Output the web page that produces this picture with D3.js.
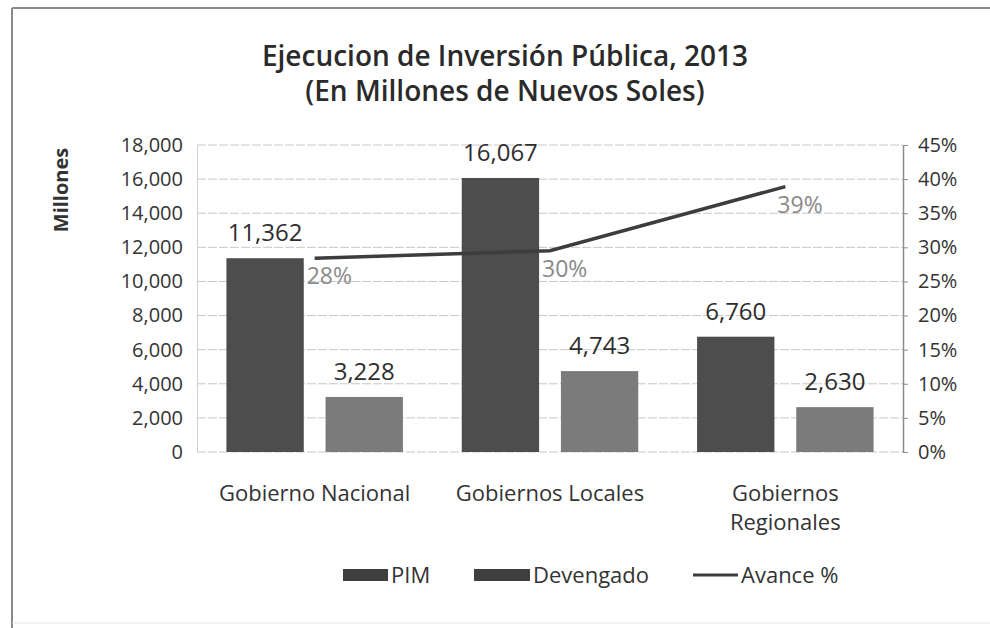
<!DOCTYPE html>
<html>
<head>
<meta charset="utf-8">
<script src="https://cdn.jsdelivr.net/npm/d3@7"></script>
<style>
  body { margin: 0; background: #fff; }
  text { font-family: "Open Sans", sans-serif; }
</style>
</head>
<body>
<svg id="chart" width="990" height="628"></svg>
<script>
const categories = ["Gobierno Nacional", "Gobiernos Locales", "Gobiernos Regionales"];
const series = ["PIM", "Devengado"];
const pim = [11362, 16067, 6760];
const devengado = [3228, 4743, 2630];
const avance = [0.284, 0.295, 0.389];
const leftTicks = [0, 2000, 4000, 6000, 8000, 10000, 12000, 14000, 16000, 18000];
const rightTicks = [0, 0.05, 0.10, 0.15, 0.20, 0.25, 0.30, 0.35, 0.40, 0.45];

const colors = { "PIM": "#4d4d4d", "Devengado": "#7b7b7b", "line": "#3d3d3d" };

const plotLeft = 197, plotRight = 903, plotTop = 145, plotBottom = 452;

const svg = d3.select("#chart");

// scanned frame
svg.append("line").attr("x1", 12).attr("x2", 990).attr("y1", 8).attr("y2", 8)
    .attr("stroke", "#8a8a8a").attr("stroke-width", 2);
svg.append("line").attr("x1", 12).attr("x2", 12).attr("y1", 8).attr("y2", 628)
    .attr("stroke", "#8a8a8a").attr("stroke-width", 2);
svg.append("line").attr("x1", 12).attr("x2", 990).attr("y1", 623).attr("y2", 623)
    .attr("stroke", "#e6e6e6").attr("stroke-width", 1);

// title
svg.append("text").attr("x", 505).attr("y", 66).attr("text-anchor", "middle")
    .style("font-size", "28px").style("font-weight", 600).attr("fill", "#2a2a2a")
    .text("Ejecucion de Inversión Pública, 2013");
svg.append("text").attr("x", 505).attr("y", 101).attr("text-anchor", "middle")
    .style("font-size", "28px").style("font-weight", 600).attr("fill", "#2a2a2a")
    .text("(En Millones de Nuevos Soles)");

// scales
const x = d3.scaleBand().domain(categories).range([plotLeft, plotRight])
    .paddingInner(0.25).paddingOuter(0.125);
const xSub = d3.scaleBand().domain(series).range([0, x.bandwidth()]).paddingInner(0.22);
const y = d3.scaleLinear().domain([0, 18000]).range([plotBottom, plotTop]);
const y2 = d3.scaleLinear().domain([0, 0.45]).range([plotBottom, plotTop]);

// gridlines
svg.append("g")
    .selectAll("line")
    .data(leftTicks)
    .join("line")
    .attr("x1", plotLeft).attr("x2", plotRight)
    .attr("y1", d => y(d)).attr("y2", d => y(d))
    .attr("stroke", "#c8c8c8").attr("stroke-width", 1)
    .attr("stroke-dasharray", "9,2");

// left axis
const leftAxis = svg.append("g")
    .attr("transform", `translate(${plotLeft}, 0)`)
    .call(d3.axisLeft(y).tickValues(leftTicks).tickFormat(d3.format(",")).tickSize(0).tickPadding(14));
leftAxis.select(".domain").attr("stroke", "#d0d0d0");
leftAxis.selectAll("text").style("font-size", "20px").attr("fill", "#333")
    .style("font-family", "'Open Sans', sans-serif");

// right axis
const rightAxis = svg.append("g")
    .attr("transform", `translate(${plotRight}, 0)`)
    .call(d3.axisRight(y2).tickValues(rightTicks).tickFormat(d3.format(".0%")).tickSizeInner(5).tickSizeOuter(0).tickPadding(10));
rightAxis.select(".domain").attr("stroke", "#8c8c8c").attr("stroke-width", 1.5);
rightAxis.selectAll("line").attr("stroke", "#8c8c8c");
rightAxis.selectAll("text").style("font-size", "20px").attr("fill", "#333")
    .style("font-family", "'Open Sans', sans-serif");

// y-axis title
svg.append("text")
    .attr("transform", "translate(68, 190) rotate(-90)")
    .attr("text-anchor", "middle")
    .style("font-size", "20px").style("font-weight", 700).attr("fill", "#333")
    .text("Millones");

// bars
const rows = categories.map((c, i) => ({ cat: c, PIM: pim[i], Devengado: devengado[i] }));
const groups = svg.append("g")
    .selectAll("g")
    .data(rows)
    .join("g")
    .attr("transform", d => `translate(${x(d.cat)}, 0)`);

groups.selectAll("rect")
    .data(d => series.map(s => ({ key: s, value: d[s] })))
    .join("rect")
    .attr("x", d => xSub(d.key))
    .attr("y", d => y(d.value))
    .attr("width", xSub.bandwidth())
    .attr("height", d => plotBottom - y(d.value))
    .attr("fill", d => colors[d.key]);

groups.selectAll("text")
    .data(d => series.map(s => ({ key: s, value: d[s] })))
    .join("text")
    .attr("x", d => xSub(d.key) + xSub.bandwidth() / 2)
    .attr("y", d => y(d.value) - 17)
    .attr("text-anchor", "middle")
    .style("font-size", "24px").attr("fill", "#2e2e2e")
    .text(d => d3.format(",")(d.value));

// line
const cx = d => x(d) + x.bandwidth() / 2;
const line = d3.line()
    .x((d, i) => cx(categories[i]))
    .y(d => y2(d));
svg.append("path")
    .datum(avance)
    .attr("d", line)
    .attr("fill", "none")
    .attr("stroke", colors.line)
    .attr("stroke-width", 3.5);

svg.append("g")
    .selectAll("text")
    .data(avance)
    .join("text")
    .attr("x", (d, i) => cx(categories[i]) - 8)
    .attr("y", d => y2(d) + 26)
    .style("font-size", "23px").attr("fill", "#8a8a8a")
    .text(d => d3.format(".0%")(d));

// category labels
const catLabels = [["Gobierno Nacional"], ["Gobiernos Locales"], ["Gobiernos", "Regionales"]];
svg.append("g")
    .selectAll("text")
    .data(categories)
    .join("text")
    .attr("x", d => cx(d))
    .attr("y", 501)
    .attr("text-anchor", "middle")
    .style("font-size", "22px").attr("fill", "#333")
    .each(function (d, i) {
        d3.select(this).selectAll("tspan")
            .data(catLabels[i])
            .join("tspan")
            .attr("x", cx(d))
            .attr("dy", (t, j) => j === 0 ? 0 : 29)
            .text(t => t);
    });

// legend
const legendItems = [
    { label: "PIM", type: "rect", x: 343, w: 45 },
    { label: "Devengado", type: "rect", x: 474, w: 56 },
    { label: "Avance %", type: "line", x: 693, w: 45 }
];
const legend = svg.append("g").attr("transform", "translate(0, 575)");
legendItems.forEach(item => {
    if (item.type === "rect") {
        legend.append("rect").attr("x", item.x).attr("y", -6).attr("width", item.w).attr("height", 12)
            .attr("fill", "#3f3f3f");
    } else {
        legend.append("line").attr("x1", item.x).attr("x2", item.x + item.w).attr("y1", 0).attr("y2", 0)
            .attr("stroke", colors.line).attr("stroke-width", 3);
    }
    legend.append("text").attr("x", item.x + item.w + 3).attr("y", 8)
        .style("font-size", "22px").attr("fill", "#333")
        .text(item.label);
});
</script>
</body>
</html>
